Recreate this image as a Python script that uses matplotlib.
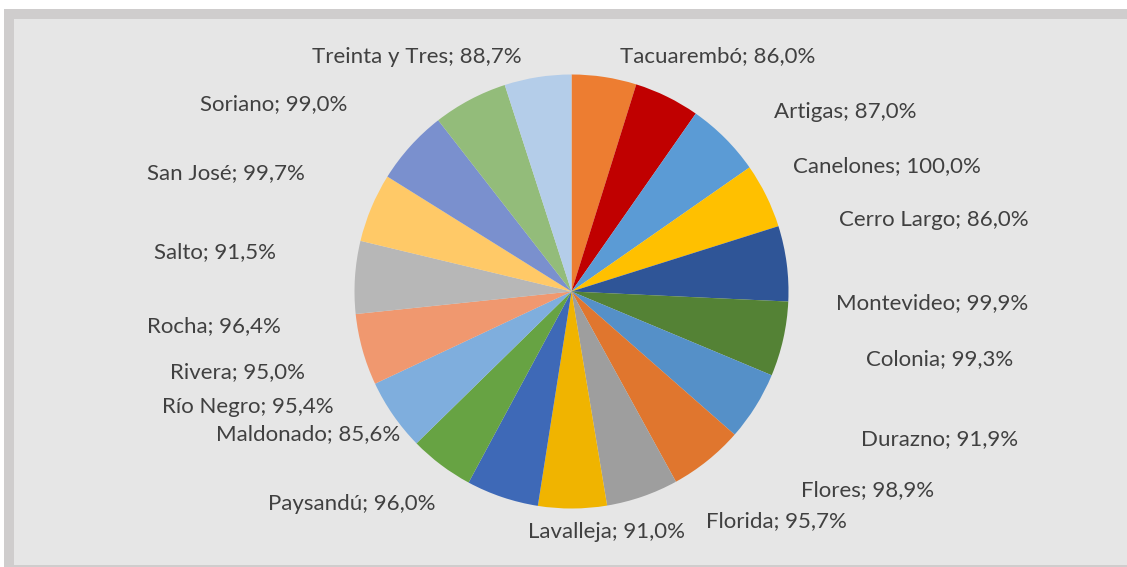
import matplotlib
matplotlib.use('Agg')
from matplotlib import pyplot as plt
from matplotlib.patches import Rectangle

# cobertura por departamento (%)
departamentos = ['Tacuarembó', 'Artigas', 'Canelones', 'Cerro Largo', 'Montevideo',
                 'Colonia', 'Durazno', 'Flores', 'Florida', 'Lavalleja', 'Paysandú',
                 'Maldonado', 'Río Negro', 'Rivera', 'Rocha', 'Salto', 'San José',
                 'Soriano', 'Treinta y Tres']
cobertura = [86.0, 87.0, 100.0, 86.0, 99.9, 99.3, 91.9, 98.9, 95.7, 91.0, 96.0,
             85.6, 95.4, 95.0, 96.4, 91.5, 99.7, 99.0, 88.7]

colores = ['#ED7D31', '#C00000', '#5B9BD5', '#FFC000', '#2F5597', '#548235',
           '#5590C8', '#E0762E', '#9E9E9E', '#F0B400', '#3E69B7', '#67A343',
           '#7FAEDD', '#F0986F', '#B7B7B7', '#FFC967', '#7A90CE', '#93BC7A',
           '#B4CDE9']

# posicion de cada etiqueta, en radios del pie respecto al centro
pos_etiquetas = [(0.673, 1.055), (1.260, 0.800), (1.452, 0.548), (1.668, 0.304),
                 (1.664, -0.079), (1.696, -0.341), (1.694, -0.706), (1.366, -0.941),
                 (0.945, -1.087), (0.159, -1.134), (-1.012, -1.005), (-1.212, -0.683),
                 (-1.493, -0.558), (-1.541, -0.397), (-1.650, -0.189), (-1.641, 0.156),
                 (-1.594, 0.516), (-1.371, 0.838), (-0.712, 1.055)]

W, H = 1127, 567
fig = plt.figure(figsize=(W / 100, H / 100), dpi=100)
fig.patch.set_facecolor('white')

ax = fig.add_axes([0, 0, 1, 1])

# marco del grafico
ax.add_patch(Rectangle((4, 0), W, H - 9, facecolor='#CFCDCD', edgecolor='none'))
ax.add_patch(Rectangle((14, 2), W, H - 21, facecolor='#E6E6E6', edgecolor='none'))

cx, cy, R = 571.5, H - 291.5, 217
ax.pie(cobertura, colors=colores, startangle=90, counterclock=False,
       center=(cx, cy), radius=R, frame=True,
       wedgeprops=dict(linewidth=0))
ax.set_xlim(0, W)
ax.set_ylim(0, H)
ax.set_aspect('equal')
ax.axis('off')

for nombre, valor, (u, v) in zip(departamentos, cobertura, pos_etiquetas):
    texto = f'{nombre}; {valor:.1f}%'.replace('.', ',')
    ax.text(cx + u * R, cy + v * R, texto, ha='center', va='baseline',
            fontsize=16, family='Lato', color='#404040')

plt.savefig('out.png', dpi=100)
